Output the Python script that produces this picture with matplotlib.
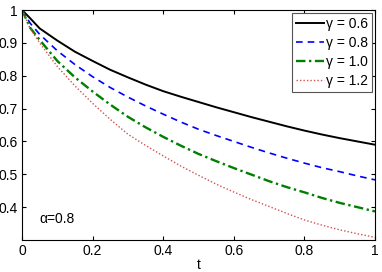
import matplotlib
matplotlib.use("Agg")
import matplotlib.pyplot as plt

plt.rcParams['font.family'] = ['Liberation Sans', 'DejaVu Sans']

t = [0.0, 0.023, 0.05, 0.1, 0.15, 0.2, 0.25, 0.3, 0.35, 0.4, 0.45, 0.5,
     0.55, 0.6, 0.65, 0.7, 0.75, 0.8, 0.85, 0.9, 0.95, 1.0]
u_g06 = [1.0, 0.975, 0.944, 0.907, 0.873, 0.845, 0.818, 0.795, 0.773, 0.753, 0.736, 0.720,
         0.704, 0.689, 0.674, 0.660, 0.646, 0.633, 0.621, 0.610, 0.600, 0.590]
u_g08 = [1.0, 0.960, 0.926, 0.876, 0.834, 0.797, 0.764, 0.735, 0.708, 0.683, 0.659, 0.637,
         0.618, 0.600, 0.582, 0.565, 0.549, 0.534, 0.520, 0.508, 0.495, 0.483]
u_g10 = [1.0, 0.946, 0.909, 0.845, 0.795, 0.752, 0.712, 0.675, 0.643, 0.614, 0.587, 0.562,
         0.540, 0.519, 0.499, 0.479, 0.461, 0.445, 0.428, 0.413, 0.400, 0.387]
u_g12 = [1.0, 0.944, 0.900, 0.828, 0.769, 0.716, 0.667, 0.622, 0.588, 0.556, 0.525, 0.497,
         0.470, 0.446, 0.423, 0.402, 0.381, 0.361, 0.345, 0.331, 0.319, 0.308]
labels = ['γ = 0.6', 'γ = 0.8', 'γ = 1.0', 'γ = 1.2']
xticks = [0, 0.2, 0.4, 0.6, 0.8, 1]
xticklabels = ['0', '0.2', '0.4', '0.6', '0.8', '1']
yticks = [0.4, 0.5, 0.6, 0.7, 0.8, 0.9, 1.0]
yticklabels = ['0.4', '0.5', '0.6', '0.7', '0.8', '0.9', '1']

fig = plt.figure(figsize=(3.82, 2.72), dpi=100)
ax = fig.add_axes([22/382, 32/272, 353/382, 230/272])

ax.plot(t, u_g06, color='black', lw=1.4, ls='-', label=labels[0])
ax.plot(t, u_g08, color='#0000ff', lw=1.2, ls=(0, (4, 3)), label=labels[1])
ax.plot(t, u_g10, color='#007f00', lw=1.7, ls=(0, (4, 1.5, 1, 1.5)), label=labels[2])
ax.plot(t, u_g12, color='#d45050', lw=1.0, ls=(0, (1, 1.5)), label=labels[3])

ax.set_xlim(0, 1)
ax.set_ylim(0.3, 1.0)
ax.set_xticks(xticks)
ax.set_xticklabels(xticklabels)
ax.set_yticks(yticks)
ax.set_yticklabels(yticklabels)
ax.tick_params(direction='in', top=True, right=True, labelsize=10, length=3, pad=3)
ax.set_xlabel('t', fontsize=10, labelpad=0)
for s in ax.spines.values():
    s.set_linewidth(0.8)

ax.text(0.05, 0.365, 'α=0.8', fontsize=10, ha='left', va='center')

leg = ax.legend(loc='upper right', fontsize=10, handlelength=2.0, handletextpad=0.15,
                borderpad=0.3, labelspacing=0.35, fancybox=False, framealpha=1,
                borderaxespad=0.2)
leg.get_frame().set_edgecolor('#555555')
leg.get_frame().set_linewidth(0.8)

fig.savefig('out.png', dpi=100)
